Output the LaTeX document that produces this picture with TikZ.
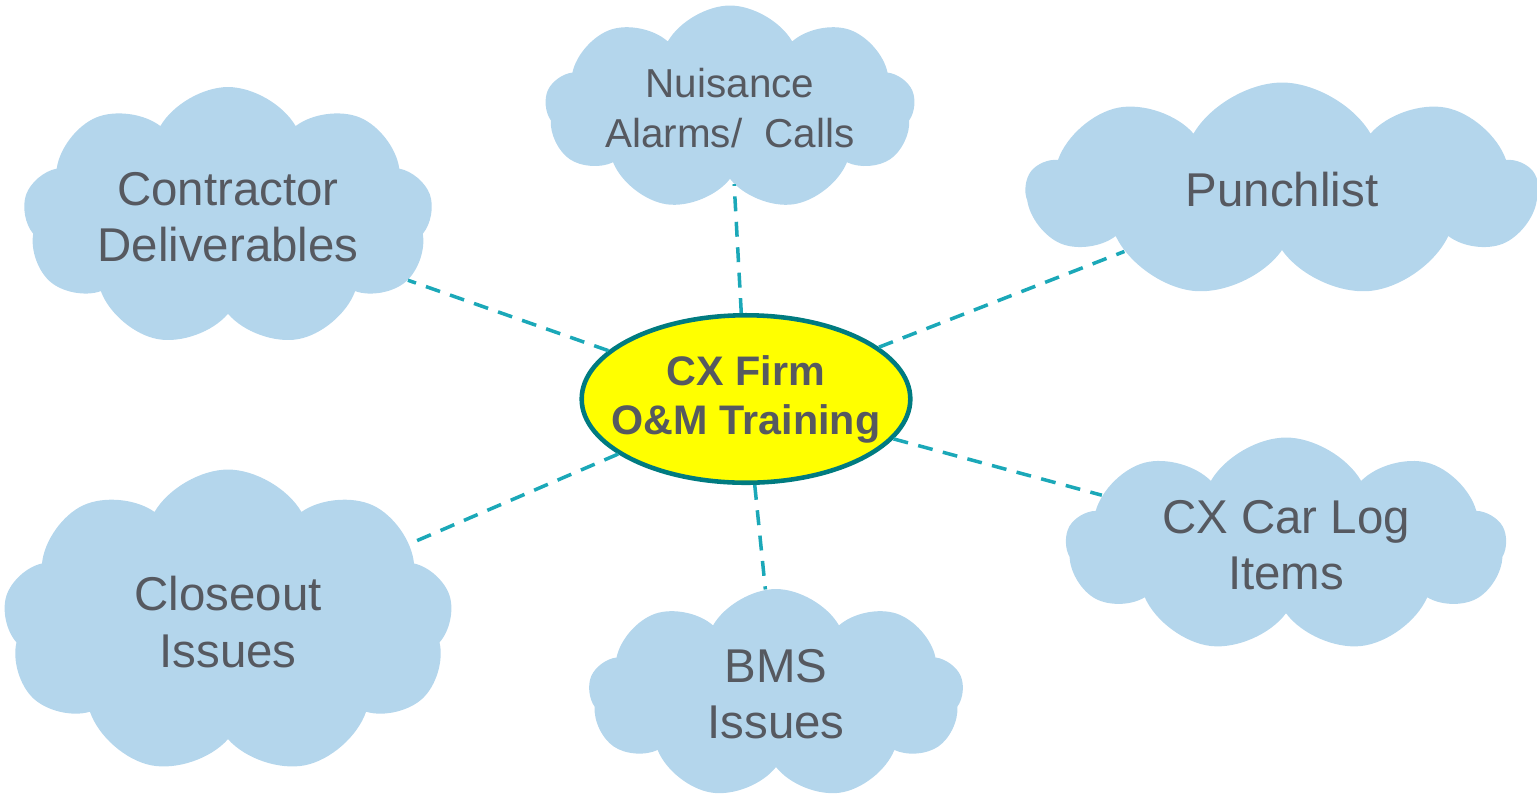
\documentclass[tikz,border=0pt]{standalone}
\usepackage{fontspec}
\setmainfont{Liberation Sans}
\usetikzlibrary{shapes.geometric, shapes.symbols}
\definecolor{cloudblue}{HTML}{B4D6EC}
\definecolor{textgray}{HTML}{565960}
\definecolor{hubyellow}{HTML}{FFFF00}
\definecolor{hubteal}{HTML}{007B80}
\definecolor{linkteal}{HTML}{1BA8B8}

\begin{document}
\begin{tikzpicture}[
    x=0.02cm, y=-0.02cm,
    % ── Node styles ──────────────────────────────────────────────────────
    hub/.style={
        ellipse, draw=hubteal, fill=hubyellow, line width=2.6pt,
        minimum width=6.55cm, minimum height=3.35cm,
        inner xsep=-0.36cm, inner ysep=0pt,
        font=\fontsize{23.5}{28}\selectfont\bfseries,
        text=textgray, align=center
    },
    topic/.style={
        cloud, cloud puffs=9, cloud puff arc=120, cloud ignores aspect,
        fill=cloudblue, draw=none, inner sep=0pt,
        font=\fontsize{27}{32}\selectfont,
        text=textgray, align=center
    },
    % ── Connector style ──────────────────────────────────────────────────
    link/.style={
        linkteal, line width=2pt, dash pattern=on 8.5pt off 6pt
    }
]
\useasboundingbox (0,0) rectangle (1537,799);

% ═══════════════════════════════════════════════════════════════════════════
% Centre
% ═══════════════════════════════════════════════════════════════════════════
\node[hub] (hub) at (746,399) {CX Firm\\O\&M Training};

% ═══════════════════════════════════════════════════════════════════════════
% Surrounding clouds
% ═══════════════════════════════════════════════════════════════════════════
\node[topic, minimum width=7.4cm, minimum height=4.1cm,
      font=\fontsize{23}{28}\selectfont] (nuisance) at (730,108)
    {Nuisance\\Alarms/\ \ Calls};
\node[topic, minimum width=8.2cm, minimum height=5.2cm] (contractor) at (228,217)
    {Contractor\\Deliverables};
\node[topic, minimum width=10.2cm, minimum height=4.3cm] (punch) at (1282,190)
    {Punchlist};
\node[topic, minimum width=8.8cm, minimum height=4.3cm] (carlog) at (1286,545)
    {CX Car Log\\Items};
\node[topic, minimum width=9cm, minimum height=6.1cm] (closeout) at (228,622)
    {Closeout\\Issues};
\node[topic, minimum width=7.5cm, minimum height=4.2cm] (bms) at (776,694)
    {BMS\\Issues};

% ═══════════════════════════════════════════════════════════════════════════
% Connectors
% ═══════════════════════════════════════════════════════════════════════════
\draw[link] (hub) -- (nuisance);
\draw[link] (hub) -- (contractor);
\draw[link] (hub) -- (punch);
\draw[link] (hub) -- (carlog);
\draw[link] (hub) -- (closeout);
\draw[link] (hub) -- (bms);

\end{tikzpicture}
\end{document}
